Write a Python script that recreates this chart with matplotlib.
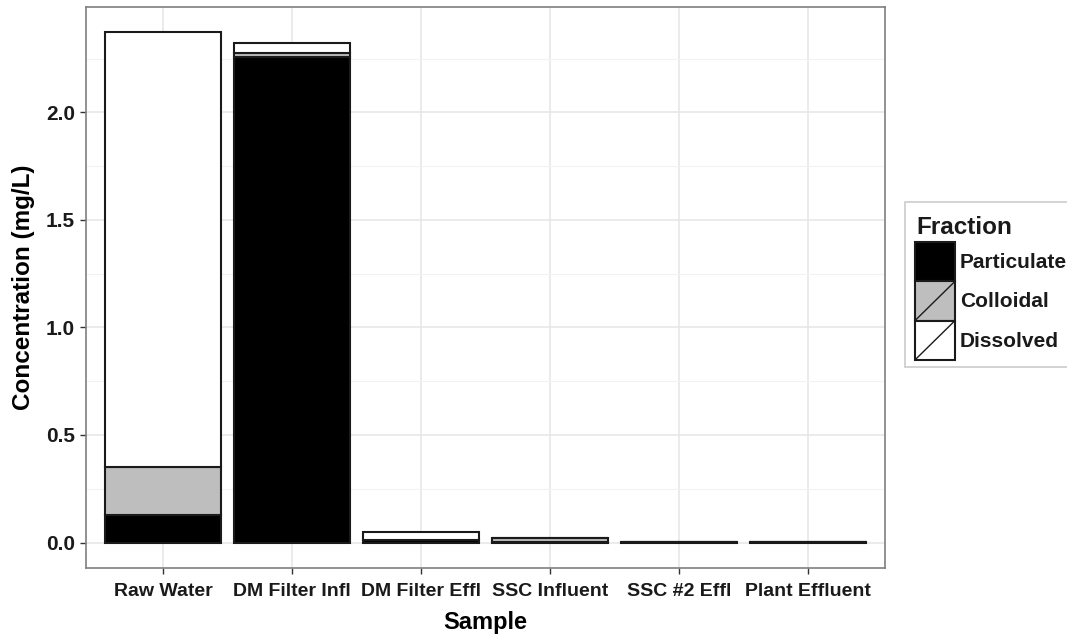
import numpy as np
import matplotlib.pyplot as plt
from matplotlib.patches import Rectangle

plt.rcParams['font.family'] = ['Liberation Sans', 'DejaVu Sans']
plt.rcParams['font.weight'] = 'bold'

samples = ['Raw Water', 'DM Filter Infl', 'DM Filter Effl', 'SSC Influent', 'SSC #2 Effl', 'Plant Effluent']
particulate = [0.13, 2.256, 0.01, 0.003, 0.002, 0.002]
colloidal = [0.22, 0.02, 0.002, 0.016, 0.0005, 0.0005]
dissolved = [2.022, 0.049, 0.035, 0.004, 0.0005, 0.0005]

fractions = ['Particulate', 'Colloidal', 'Dissolved']
fills = {'Particulate': 'black', 'Colloidal': '#bebebe', 'Dissolved': 'white'}
edge = '#1a1a1a'

W, H = 1067, 638
fig = plt.figure(figsize=(W / 100, H / 100), dpi=100)
ax = fig.add_axes([86 / W, 1 - 568 / H, 799 / W, 561 / H])

x = np.arange(1, len(samples) + 1)
bottom = np.zeros(len(samples))
for name, vals in zip(fractions, [particulate, colloidal, dissolved]):
    vals = np.array(vals)
    ax.bar(x, vals, width=0.9, bottom=bottom, color=fills[name], edgecolor=edge, linewidth=1.5, zorder=3)
    bottom += vals

# ggplot-style 5% expansion
total_max = bottom.max()
pad = total_max * 0.05
ax.set_ylim(-pad, total_max + pad)
ax.set_xlim(0.4, len(samples) + 0.6)

ax.set_yticks([0, 0.5, 1.0, 1.5, 2.0])
ax.set_yticklabels(['0.0', '0.5', '1.0', '1.5', '2.0'])
ax.set_yticks([0.25, 0.75, 1.25, 1.75, 2.25], minor=True)
ax.set_xticks(x)
ax.set_xticklabels(samples)
ax.grid(True, which='major', color='#e5e5e5', linewidth=1.1, zorder=0)
ax.grid(True, which='minor', axis='y', color='#f2f2f2', linewidth=0.8, zorder=0)
ax.tick_params(axis='both', which='major', colors='#333333', length=4, width=1, labelcolor='#1a1a1a')
ax.tick_params(axis='x', pad=7, labelsize=14)
ax.tick_params(axis='y', pad=4, labelsize=15)
ax.tick_params(axis='y', which='minor', length=0)
for s in ax.spines.values():
    s.set_color('#7f7f7f')
    s.set_linewidth(1.2)

ax.set_xlabel('Sample', fontsize=17, fontweight='bold', labelpad=8)
ax.set_ylabel('Concentration (mg/L)', fontsize=17.5, fontweight='bold', labelpad=8)

# legend drawn in figure pixel coordinates
lg = fig.add_axes([0, 0, 1, 1], facecolor='none')
lg.set_xlim(0, W)
lg.set_ylim(H, 0)
lg.axis('off')
lg.add_patch(Rectangle((905, 202), 175, 165, facecolor='white', edgecolor='#cccccc', linewidth=1.2))
lg.text(916, 227, 'Fraction', fontsize=17.5, fontweight='bold', va='center', ha='left', color='#1a1a1a')
key_top = 242
key_h = 39.3
for i, name in enumerate(fractions):
    y0 = key_top + i * key_h
    lg.add_patch(Rectangle((915, y0), 40, key_h, facecolor=fills[name], edgecolor=edge, linewidth=1.5))
    if name != 'Particulate':
        lg.plot([915, 955], [y0 + key_h, y0], color=edge, linewidth=1)
    lg.text(960, y0 + key_h / 2 + 1, name, fontsize=15, fontweight='bold', va='center', ha='left',
            color='#1a1a1a')

fig.savefig('out.png', dpi=100)
